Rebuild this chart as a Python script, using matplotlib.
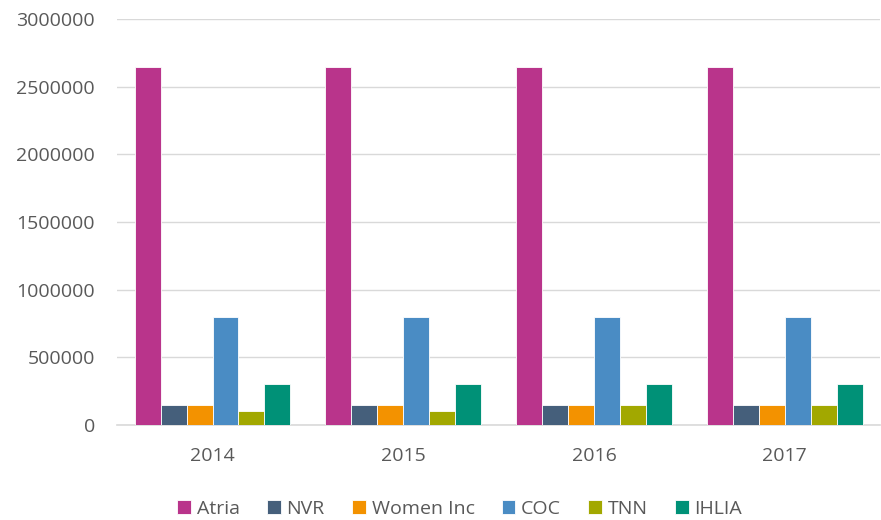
import numpy as np
import matplotlib.pyplot as plt

years = ["2014", "2015", "2016", "2017"]
series = ["Atria", "NVR", "Women Inc", "COC", "TNN", "IHLIA"]
atria = [2650000, 2650000, 2650000, 2650000]
nvr = [150000, 150000, 150000, 150000]
women_inc = [150000, 150000, 150000, 150000]
coc = [800000, 800000, 800000, 800000]
tnn = [100000, 100000, 150000, 150000]
ihlia = [300000, 300000, 300000, 300000]
values = [atria, nvr, women_inc, coc, tnn, ihlia]
colors = ["#B9348B", "#455F7B", "#F39200", "#4A8CC4", "#A2A800", "#009177"]

plt.rcParams['font.family'] = ['Open Sans', 'DejaVu Sans']

fig = plt.figure(figsize=(8.81, 5.20), dpi=100)
ax = fig.add_axes([0.133, 0.183, 0.866, 0.78])

x = np.arange(len(years))
bw = 0.136
for i, (name, vals) in enumerate(zip(series, values)):
    ax.bar(x + (i - 2.5) * bw, vals, width=bw, color=colors[i], label=name,
           edgecolor="white", linewidth=0.6, zorder=3)

ax.set_xlim(-0.5, 3.5)
ax.set_ylim(0, 3000000)
ax.set_yticks(np.arange(0, 3000001, 500000))
ax.set_yticklabels([str(v) for v in range(0, 3000001, 500000)])
ax.set_xticks(x)
ax.set_xticklabels(years)
ax.grid(axis="y", color="#D9D9D9", linewidth=1, zorder=0)
for s in ["top", "right", "left"]:
    ax.spines[s].set_visible(False)
ax.spines["bottom"].set_color("#D9D9D9")
ax.spines["bottom"].set_linewidth(1.2)
ax.tick_params(length=0, labelsize=14, colors="#595959")
ax.tick_params(axis="y", pad=16)
ax.tick_params(axis="x", pad=16)

fig.legend(loc="center", bbox_to_anchor=(0.522, 0.021), ncol=6, frameon=False,
           fontsize=14, labelcolor="#595959", handlelength=0.7, handleheight=0.7,
           handletextpad=0.3, columnspacing=1.4)

fig.savefig("out.png", dpi=100)
